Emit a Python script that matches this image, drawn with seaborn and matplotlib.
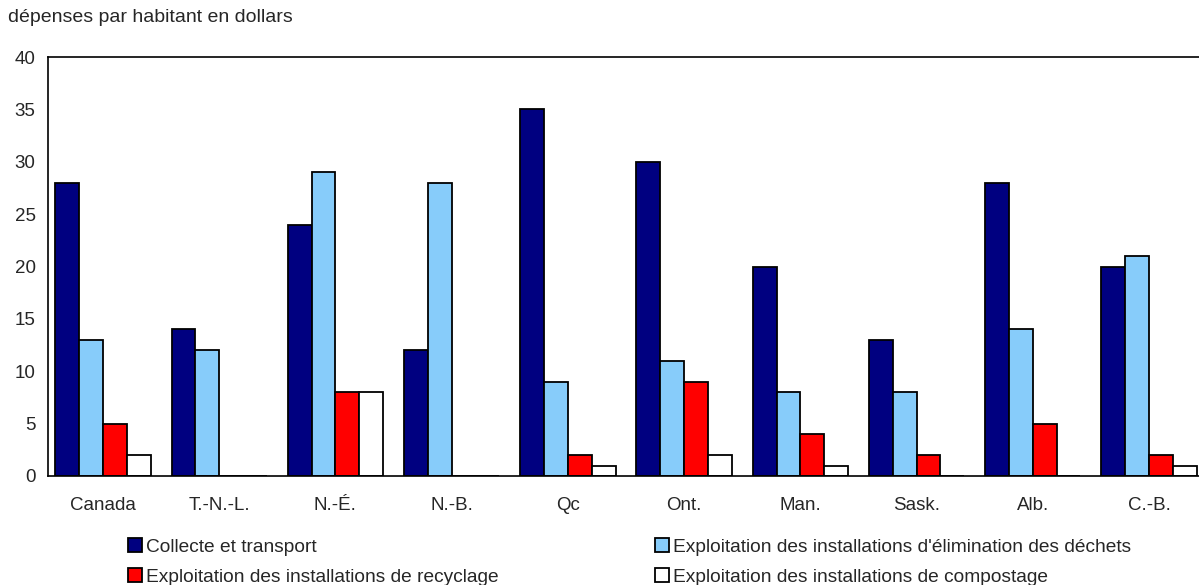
import matplotlib
matplotlib.use("Agg")
import matplotlib.pyplot as plt
import pandas as pd
import seaborn as sns

# données
provinces = ["Canada", "T.-N.-L.", "N.-É.", "N.-B.", "Qc", "Ont.", "Man.", "Sask.", "Alb.", "C.-B."]
collecte = [28, 14, 24, 12, 35, 30, 20, 13, 28, 20]
elimination = [13, 12, 29, 28, 9, 11, 8, 8, 14, 21]
recyclage = [5, 0, 8, 0, 2, 9, 4, 2, 5, 2]
compostage = [2, 0, 8, 0, 1, 2, 1, 0, 0, 1]

series = [
    "Collecte et transport",
    "Exploitation des installations d'élimination des déchets",
    "Exploitation des installations de recyclage",
    "Exploitation des installations de compostage",
]
couleurs = ["#000080", "#87CCFA", "#FF0000", "#FFFFFF"]

rows = []
for nom, vals in zip(series, [collecte, elimination, recyclage, compostage]):
    for p, v in zip(provinces, vals):
        rows.append({"province": p, "serie": nom, "valeur": v})
df = pd.DataFrame(rows)

sns.set_style("white")
plt.rcParams["font.family"] = ["Liberation Sans", "DejaVu Sans"]

fig = plt.figure(figsize=(11.99, 5.85), dpi=100)
ax = fig.add_axes([48 / 1199, 1 - 476 / 585, 1 - 48 / 1199, (476 - 57) / 585])

sns.barplot(data=df, x="province", y="valeur", hue="serie", hue_order=series,
            palette=couleurs, width=0.82, gap=0, edgecolor="black", linewidth=1.3,
            saturation=1, legend=True, ax=ax)

ax.set_xlim(-0.473, 9.43)
ax.set_ylim(0, 40)
ax.set_yticks(range(0, 41, 5))
ax.set_xlabel("")
ax.set_ylabel("")
ax.tick_params(axis="y", direction="in", length=4, width=1, pad=9, labelsize=13.5)
ax.tick_params(axis="x", length=0, pad=15, labelsize=13.5)
for s in ["left", "bottom", "top"]:
    ax.spines[s].set_color("black")
    ax.spines[s].set_linewidth(1.2)
ax.spines["right"].set_visible(False)

handles, labels = ax.get_legend_handles_labels()
ax.get_legend().remove()
kw = dict(frameon=False, fontsize=13.8, handlelength=0.75, handleheight=0.75,
          handletextpad=0.2, labelspacing=0.65, borderaxespad=0, borderpad=0)
leg1 = fig.legend([handles[0], handles[2]], [labels[0], labels[2]],
                  loc="upper left", bbox_to_anchor=(128 / 1199, 1 - 538 / 585), **kw)
leg2 = fig.legend([handles[1], handles[3]], [labels[1], labels[3]],
                  loc="upper left", bbox_to_anchor=(655 / 1199, 1 - 538 / 585), **kw)

fig.text(8 / 1199, 1 - 18 / 585, "dépenses par habitant en dollars", fontsize=14, va="center", ha="left")

fig.savefig("out.png", dpi=100)
